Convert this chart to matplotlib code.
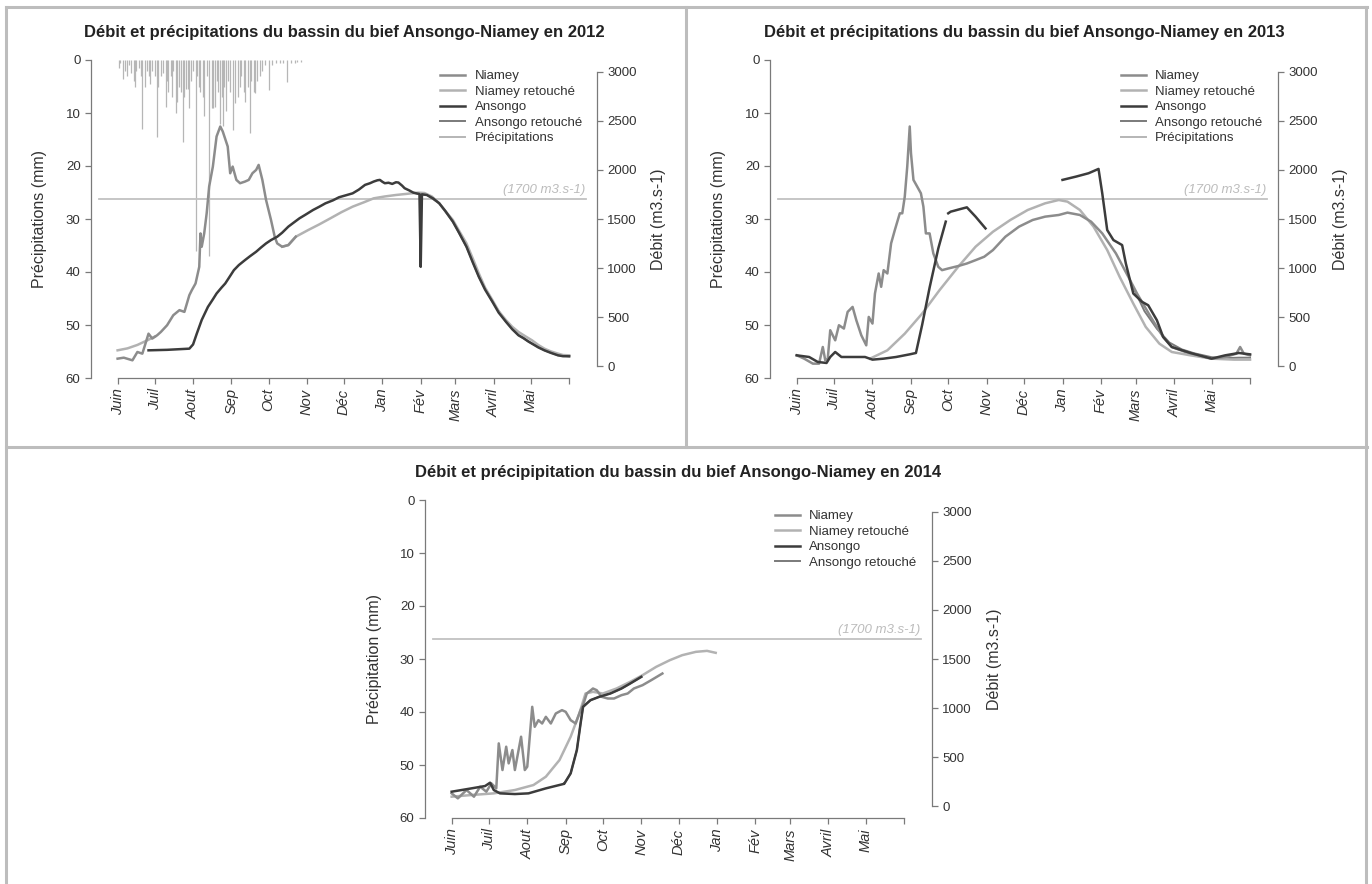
import numpy as np
import matplotlib.pyplot as plt
from matplotlib.lines import Line2D

plt.rcParams["font.family"] = ["Liberation Sans", "DejaVu Sans"]

W, H = 1372, 884

# ----------------------------------------------------------------- data ----
MONTHS = ["Juin", "Juil", "Aout", "Sep", "Oct", "Nov", "Déc", "Jan", "Fév",
          "Mars", "Avril", "Mai", ""]
MONTH_DAYS = [0, 30, 61, 92, 122, 153, 183, 214, 245, 273, 304, 334, 365]
SEUIL = 1700  # m3/s

# 2012 (days counted from 1 June)
niamey_2012_d = [0, 5, 12, 16, 20, 25, 28, 32, 35, 40, 45, 50, 54, 58, 60, 63,
                 66, 67, 68, 70, 72, 74, 77, 80, 83, 85, 89, 91, 93, 96, 99,
                 103, 106, 109, 112, 114, 117, 120, 124, 127, 129, 133, 138, 144]
niamey_2012_q = [75, 85, 58, 143, 126, 330, 280, 314, 348, 416, 518, 570, 552,
                 723, 774, 842, 1012, 1353, 1217, 1353, 1558, 1831, 2035, 2342,
                 2444, 2393, 2240, 1967, 2035, 1899, 1865, 1882, 1899, 1967,
                 2001, 2052, 1899, 1694, 1490, 1319, 1251, 1217, 1234, 1319]
niamey_ret_2012_d = [0, 8, 16, 24, 30, np.nan, 133, 138, 144, 154, 163, 172,
                     181, 190, 199, 207, 216, 225, 234, 243, 248, 254, 260,
                     265, 271, 276, 282, 287, 292, 297, 303, 308, 314, 319,
                     324, 330, 335, 340, 345, 350, 356, 360, 365]
niamey_ret_2012_q = [160, 180, 215, 262, 300, np.nan, 1217, 1234, 1319, 1387,
                     1445, 1507, 1570, 1626, 1670, 1711, 1730, 1745, 1757,
                     1769, 1765, 1730, 1660, 1580, 1490, 1380, 1251, 1100, 944,
                     800, 672, 560, 467, 400, 348, 300, 262, 215, 177, 150,
                     126, 112, 109]
ansongo_2012_d = [25, 40, 58, 61, 64, 68, 73, 77, 80, 84, 87, 90, 94, 98, 103,
                  107, 112, 116, 120, 124, 129, 133, 138, 142, 147, 152, 158,
                  163, 168, 174, 179, 184, 190, 195, 200, 204, 207, 210, 212,
                  214, 216, 219, 222, 225, 227, 230, 232, 236, 239, 242, 244,
                  245, 246, 250, 255, 260, 265, 271, 276, 282, 287, 292, 297,
                  303, 308, 314, 319, 324, 328, 332, 335, 340, 345, 350, 356,
                  360, 365]
ansongo_2012_q = [160, 165, 177, 220, 330, 470, 603, 680, 740, 800, 842, 900,
                  978, 1030, 1081, 1120, 1166, 1210, 1251, 1285, 1319, 1360,
                  1422, 1460, 1507, 1545, 1592, 1625, 1660, 1690, 1722, 1740,
                  1762, 1800, 1848, 1865, 1882, 1895, 1899, 1880, 1865, 1870,
                  1858, 1875, 1872, 1840, 1814, 1790, 1769, 1760, 1755, 1012,
                  1752, 1745, 1710, 1660, 1580, 1473, 1360, 1217, 1060, 910,
                  780, 655, 545, 450, 375, 314, 285, 250, 228, 190, 160, 135,
                  109, 100, 99]
ansongo_ret_2012_d = [239, 244, 250, 260, 271, 282, 292, 303, 314, 324, 335,
                      345, 356, 365]
ansongo_ret_2012_q = [1769, 1755, 1745, 1660, 1473, 1217, 910, 655, 450, 314,
                      228, 160, 109, 99]
precip_2012_d = [1, 2, 4, 6, 8, 9, 11, 13, 14, 15,
                 17, 19, 20, 22, 24, 25, 26, 28, 30, 32,
                 33, 35, 37, 39, 40, 41, 43, 44, 45, 47,
                 48, 50, 51, 53, 54, 55, 57, 58, 59, 61,
                 63, 64, 66, 67, 69, 70, 72, 74, 76, 77,
                 79, 80, 81, 83, 84, 85, 86, 88, 89, 91,
                 93, 95, 97, 99, 100, 102, 103, 105, 107, 108,
                 110, 111, 113, 115, 117, 119, 122, 125, 128, 131,
                 134, 137, 140, 143, 145, 148]
precip_2012_mm = [1.5, 0.5, 3.5, 2.0, 3.0, 1.0, 2.5, 4.0, 5.0, 2.0,
                  1.5, 3.0, 13.0, 5.0, 2.0, 3.0, 4.5, 2.0, 3.0, 14.5,
                  5.0, 3.0, 2.5, 8.8, 4.0, 6.0, 3.0, 7.0, 2.0, 10.0,
                  8.0, 5.0, 6.0, 15.5, 7.0, 5.5, 5.5, 9.0, 4.0, 2.0,
                  36.0, 3.0, 5.0, 6.0, 7.0, 10.5, 3.0, 37.0, 9.0, 9.0,
                  8.8, 4.0, 6.0, 12.0, 7.0, 12.4, 5.0, 9.7, 4.0, 6.0,
                  13.2, 8.2, 7.0, 5.0, 3.0, 6.0, 8.0, 5.0, 13.8, 4.0,
                  6.0, 6.3, 4.0, 3.0, 2.0, 1.0, 5.7, 1.0, 0.5, 0.5,
                  0.5, 4.1, 0.5, 0.5, 0.3, 0.3]

# 2013
niamey_2013_d = [0, 6, 13, 18, 21, 23, 25, 27, 31, 34, 38, 41, 45, 48, 52, 56,
                 58, 61, 63, 66, 68, 70, 73, 76, 79, 83, 85, 87, 89, 91, 92, 94,
                 97, 100, 102, 104, 107, 110, 114, 117, 122, 130, 137, 144,
                 151, 158, 168, 179, 190, 200, 211, 218, 228, 237, 246, 257,
                 267, 274, 285, 295, 302, 313, 324, 334, 345, 354, 357, 360,
                 365]
niamey_2013_q = [109, 75, 24, 24, 194, 58, 75, 365, 262, 416, 382, 552, 603,
                 467, 314, 211, 501, 433, 740, 944, 808, 978, 944, 1251, 1387,
                 1558, 1558, 1728, 2035, 2444, 2172, 1899, 1831, 1762, 1626,
                 1353, 1353, 1149, 1012, 978, 995, 1020, 1046, 1080, 1115,
                 1183, 1319, 1422, 1490, 1524, 1541, 1565, 1541, 1473, 1353,
                 1149, 910, 740, 501, 297, 194, 143, 109, 75, 92, 126, 194,
                 126, 109]
niamey_ret_2013_d = [59, 73, 87, 101, 115, 130, 144, 158, 172, 186, 200, 211,
                     218, 228, 239, 250, 260, 271, 281, 292, 302, 317, 334,
                     352, 365]
niamey_ret_2013_q = [75, 160, 330, 535, 774, 1012, 1217, 1370, 1490, 1592,
                     1660, 1694, 1677, 1592, 1422, 1183, 910, 637, 399, 228,
                     143, 109, 75, 65, 65]
ansongo_2013_d = [0, 10, 17, 24, 27, 31, 36, 45, 55, 61, 70, 80, 91, 96, 101,
                  107, 114, 120, np.nan, 122, 124, 127, 131, 137, 144, 152,
                  np.nan, 214, 225, 235, 243, 246, 250, 255, 262, 265, 271,
                  278, 283, 290, 295, 302, 317, 334, 345, 356, 365]
ansongo_2013_q = [109, 92, 41, 31, 92, 143, 92, 92, 92, 65, 75, 92, 119, 133,
                  420, 800, 1200, 1473, np.nan, 1558, 1575, 1585, 1599, 1619,
                  1524, 1404, np.nan, 1899, 1933, 1967, 2011, 1762, 1387, 1285,
                  1234, 1046, 740, 655, 620, 467, 297, 194, 133, 75, 109, 133,
                  119]
ansongo_ret_2013_d = [271, 280, 290, 300, 310, 320, 334, 345, 356, 365]
ansongo_ret_2013_q = [800, 560, 380, 240, 170, 130, 90, 80, 85, 85]

# 2014
niamey_2014_d = [0, 5, 12, 18, 23, 28, 32, 36, 38, 41, 44, 46, 49, 51, 56, 59,
                 61, 65, 67, 70, 73, 76, 80, 84, 89, 92, 96, 100, 104, 106,
                 109, 114, 117, 121, 126, 131, 137, 142, 147, 154, 161, 170]
niamey_2014_q = [129, 78, 163, 95, 197, 146, 231, 180, 639, 367, 605, 435, 571,
                 367, 707, 367, 401, 1012, 808, 876, 842, 910, 842, 944, 978,
                 961, 876, 842, 978, 1029, 1148, 1199, 1182, 1114, 1097, 1097,
                 1131, 1148, 1199, 1233, 1284, 1352]
niamey_ret_2014_d = [0, 16, 34, 51, 66, 76, 87, 96, 103, 108, 114, 122, 133,
                     144, 154, 165, 176, 186, 197, 206, 213]
niamey_ret_2014_q = [95, 112, 129, 163, 214, 299, 469, 707, 944, 1148, 1165,
                     1148, 1199, 1267, 1335, 1420, 1488, 1539, 1573, 1583, 1563]
ansongo_2014_d = [0, 16, 27, 31, 34, 39, 51, 62, 76, 90, np.nan, 91, 96, 101,
                  104, 106, 112, 119, 128, 137, 144, 153]
ansongo_2014_q = [146, 180, 204, 238, 163, 129, 122, 129, 180, 224, np.nan,
                  231, 333, 571, 842, 1012, 1080, 1114, 1148, 1199, 1250, 1318]
ansongo_ret_2014_d = [91, 96, 101, 104, 106, 112, 119, 128, 137, 144, 153]
ansongo_ret_2014_q = [231, 333, 571, 842, 1012, 1080, 1114, 1148, 1199, 1250,
                      1318]

# --------------------------------------------------------------- styles ----
C_NIA, C_NIA_R = "#8c8c8c", "#b2b2b2"
C_ANS, C_ANS_R = "#3c3c3c", "#7a7a7a"
C_PR, C_SEUIL = "#b6b6b6", "#c2c2c2"
C_AX, C_TXT = "#7a7a7a", "#333333"


def fig_rect(left, top, right, bottom):
    return [left / W, 1 - bottom / H, (right - left) / W, (bottom - top) / H]


def panel(fig, box, title, ylabel, curves, precip=None, legend_precip=True):
    left, top, right, bottom = box
    ax = fig.add_axes(fig_rect(*box))
    ax.set_xlim(-21.5, 387.5)
    ax.set_ylim(60, 0)
    ax.set_yticks(range(0, 61, 10))
    ax.set_xticks(MONTH_DAYS)
    ax.set_xticklabels(MONTHS, rotation=90, style="italic", fontsize=10.5,
                       color=C_TXT)
    for s in ("top", "right"):
        ax.spines[s].set_visible(False)
    ax.spines["left"].set_bounds(0, 60)
    ax.spines["bottom"].set_bounds(0, 365)
    for s in ("left", "bottom"):
        ax.spines[s].set_color(C_AX)
        ax.spines[s].set_linewidth(0.9)
    ax.tick_params(length=4, width=0.9, color=C_AX, labelsize=9.5,
                   labelcolor=C_TXT)
    ax.tick_params(axis="x", labelsize=10.5)
    if precip is not None:
        ax.vlines(precip[0], 0, precip[1], color=C_PR, lw=0.9)

    ax2 = ax.twinx()
    ax2.set_ylim(-122.4, 3122.4)
    ax2.set_yticks(range(0, 3001, 500))
    for s in ("top", "left", "bottom"):
        ax2.spines[s].set_visible(False)
    ax2.spines["right"].set_bounds(0, 3000)
    ax2.spines["right"].set_color(C_AX)
    ax2.spines["right"].set_linewidth(0.9)
    ax2.tick_params(length=4, width=0.9, color=C_AX, labelsize=9.5,
                    labelcolor=C_TXT)

    ax2.axhline(SEUIL, xmin=0.016, xmax=0.978, color=C_SEUIL, lw=1.3)
    ax2.text(0.977, SEUIL + 30, "(1700 m3.s-1)", transform=ax2.get_yaxis_transform(),
             ha="right", va="bottom", style="italic", fontsize=9.5, color="#bcbcbc")

    styles = {"Niamey": (C_NIA, 1.8), "Niamey retouché": (C_NIA_R, 1.8),
              "Ansongo": (C_ANS, 1.8), "Ansongo retouché": (C_ANS_R, 1.4)}
    for name in ("Ansongo retouché", "Niamey retouché", "Niamey", "Ansongo"):
        d, q = curves[name]
        c, lw = styles[name]
        ax2.plot(d, q, color=c, lw=lw)

    handles = [Line2D([], [], color=styles[n][0], lw=styles[n][1])
               for n in ("Niamey", "Niamey retouché", "Ansongo", "Ansongo retouché")]
    labels = ["Niamey", "Niamey retouché", "Ansongo", "Ansongo retouché"]
    if legend_precip:
        handles.append(Line2D([], [], color=C_PR, lw=1.4))
        labels.append("Précipitations")
    leg = ax2.legend(handles, labels, loc="upper left", bbox_to_anchor=(0.68, 0.985),
                     frameon=False, fontsize=9.5, handlelength=1.9,
                     labelspacing=0.25, handletextpad=0.7, borderaxespad=0)
    for t in leg.get_texts():
        t.set_color(C_TXT)

    cx = (left + right) / 2
    fig.text(cx / W, 1 - (top - 27) / H, title, ha="center", va="center",
             fontsize=12, fontweight="bold", color="#222222")
    fig.text((left - 51) / W, 1 - (top + bottom) / 2 / H, ylabel, rotation=90,
             ha="center", va="center", fontsize=11.5, color=C_TXT)
    fig.text((right + 62) / W, 1 - (top + bottom) / 2 / H, "Débit (m3.s-1)",
             rotation=90, ha="center", va="center", fontsize=11.5, color=C_TXT)
    return ax, ax2


fig = plt.figure(figsize=(W / 100, H / 100), dpi=100)

panel(fig, (91, 60, 597, 378),
      "Débit et précipitations du bassin du bief Ansongo-Niamey en 2012",
      "Précipitations (mm)",
      {"Niamey": (niamey_2012_d, niamey_2012_q),
       "Niamey retouché": (niamey_ret_2012_d, niamey_ret_2012_q),
       "Ansongo": (ansongo_2012_d, ansongo_2012_q),
       "Ansongo retouché": (ansongo_ret_2012_d, ansongo_ret_2012_q)},
      precip=(precip_2012_d, precip_2012_mm))

panel(fig, (770, 60, 1278, 378),
      "Débit et précipitations du bassin du bief Ansongo-Niamey en 2013",
      "Précipitations (mm)",
      {"Niamey": (niamey_2013_d, niamey_2013_q),
       "Niamey retouché": (niamey_ret_2013_d, niamey_ret_2013_q),
       "Ansongo": (ansongo_2013_d, ansongo_2013_q),
       "Ansongo retouché": (ansongo_ret_2013_d, ansongo_ret_2013_q)})

panel(fig, (425, 500, 932, 818),
      "Débit et précipipitation du bassin du bief Ansongo-Niamey en 2014",
      "Précipitation (mm)",
      {"Niamey": (niamey_2014_d, niamey_2014_q),
       "Niamey retouché": (niamey_ret_2014_d, niamey_ret_2014_q),
       "Ansongo": (ansongo_2014_d, ansongo_2014_q),
       "Ansongo retouché": (ansongo_ret_2014_d, ansongo_ret_2014_q)},
      legend_precip=False)

# grey frames around the three figures
frame = dict(color="#bdbdbd", lw=2.2, transform=fig.transFigure)
for (x1, y1), (x2, y2) in [((6, 7), (1367, 7)), ((6, 7), (6, 884)),
                           ((1366, 7), (1366, 884)), ((686, 7), (686, 447)),
                           ((6, 447), (1367, 447))]:
    fig.add_artist(Line2D([x1 / W, x2 / W], [1 - y1 / H, 1 - y2 / H], **frame))

fig.savefig("out.png", dpi=100)
